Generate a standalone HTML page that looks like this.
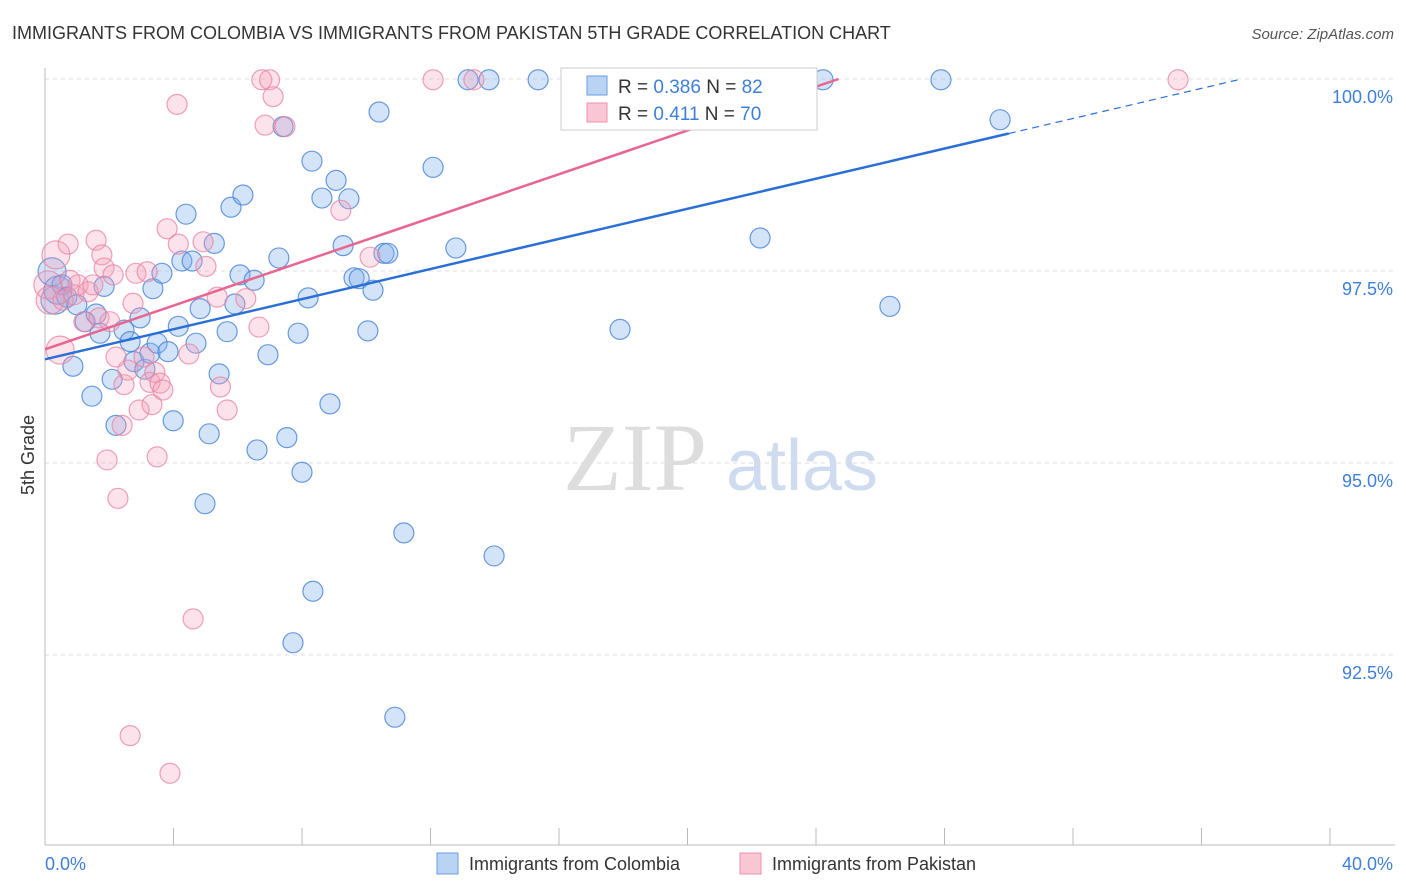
<!DOCTYPE html>
<html><head><meta charset="utf-8"><style>
body{margin:0;background:#fff;font-family:"Liberation Sans",sans-serif}
svg{display:block}
</style></head><body>
<svg id="c" width="1406" height="892">
<text x="12" y="39" font-size="18" fill="#333">IMMIGRANTS FROM COLOMBIA VS IMMIGRANTS FROM PAKISTAN 5TH GRADE CORRELATION CHART</text>
<text x="1394" y="39" font-size="15" fill="#555" text-anchor="end" font-style="italic">Source: ZipAtlas.com</text>
<text x="34" y="455" font-size="18" fill="#333" text-anchor="middle" transform="rotate(-90 34 455)">5th Grade</text>
<g><text x="635" y="490" font-size="96" fill="#ddd" font-family="Liberation Serif,serif" text-anchor="middle">ZIP</text><text x="802" y="490" font-size="72" fill="#cfdcf0" text-anchor="middle">atlas</text></g>
<g id="grid"></g><g id="axes"></g><g id="pts"></g><g id="lines"></g>
<g>
<rect x="561" y="68" width="256" height="62" fill="#fff" stroke="#ccc"/>
<rect x="587" y="76" width="20" height="19" fill="#b9d3f3" stroke="#6a9ee0"/>
<rect x="587" y="103" width="20" height="19" fill="#f9c6d4" stroke="#eb92ad"/>
<text x="618" y="93" font-size="19" fill="#333">R = <tspan fill="#3f7fd8">0.386</tspan>   N = <tspan fill="#3f7fd8">82</tspan></text>
<text x="618" y="120" font-size="19" fill="#333">R =  <tspan fill="#3f7fd8">0.411</tspan>   N = <tspan fill="#3f7fd8">70</tspan></text>
</g>
<g>
<rect x="437" y="853" width="21" height="21" fill="#b9d3f3" stroke="#6a9ee0"/>
<text x="469" y="870" font-size="18" fill="#333">Immigrants from Colombia</text>
<rect x="740" y="853" width="21" height="21" fill="#f9c6d4" stroke="#eb92ad"/>
<text x="772" y="870" font-size="18" fill="#333">Immigrants from Pakistan</text>
</g>
</svg>
<script>
const yTicks=[100,97.5,95,92.5];
const yTickLabels=["100.0%","97.5%","95.0%","92.5%"];
const xTickLabels=["0.0%","40.0%"];
const blueX=[0.22,0.31,0.40,0.53,0.68,0.87,0.99,1.25,1.46,1.59,1.71,1.84,2.09,2.21,2.46,2.65,2.77,2.96,3.11,3.27,3.36,3.49,3.64,3.83,3.99,4.15,4.26,4.39,4.58,4.70,4.83,4.98,5.11,5.27,5.42,5.67,5.79,5.91,6.07,6.16,6.51,6.60,6.94,7.28,7.41,7.53,7.72,7.88,8.00,8.19,8.31,8.34,8.62,8.87,9.06,9.28,9.46,9.62,9.78,10.05,10.21,10.40,10.55,10.67,10.89,11.17,12.08,12.79,13.17,13.82,13.98,15.35,17.90,20.82,22.26,24.22,26.30,27.89,29.73];
const blueY=[97.49,97.12,97.25,97.32,97.16,96.26,97.06,96.84,95.87,96.94,96.69,97.30,96.09,95.49,96.73,96.58,96.32,96.89,96.22,96.43,97.27,96.56,97.47,96.45,95.55,96.78,97.63,98.24,97.63,96.56,97.01,94.47,95.38,97.86,96.16,96.71,98.33,97.07,97.45,98.49,97.38,95.17,96.41,97.67,99.38,95.33,92.66,96.69,94.88,97.15,98.93,93.33,98.45,95.77,98.68,97.83,98.44,97.41,97.40,96.72,97.25,99.57,97.73,97.73,91.69,94.09,98.85,97.80,99.99,99.99,93.79,99.99,96.74,99.99,97.93,99.99,97.04,99.99,99.47];
const pinkX=[0.09,0.16,0.34,0.47,0.56,0.72,0.78,0.90,1.03,1.21,1.34,1.49,1.59,1.68,1.77,1.84,1.93,2.02,2.12,2.21,2.27,2.40,2.46,2.58,2.65,2.74,2.83,2.93,3.08,3.18,3.27,3.33,3.42,3.49,3.58,3.67,3.80,3.89,4.11,4.15,4.48,4.61,4.92,5.01,5.36,5.46,5.67,6.25,6.66,6.75,6.85,6.99,7.10,7.47,9.21,10.12,12.08,13.35,16.40,35.27];
const pinkY=[97.32,97.12,97.71,96.47,97.12,97.85,97.38,97.19,97.32,96.84,97.23,97.32,97.90,96.89,97.71,97.54,95.04,96.84,97.45,96.38,94.54,95.49,96.02,96.21,91.45,97.08,97.47,95.69,96.38,97.49,96.05,95.76,96.18,95.08,96.04,95.95,98.05,90.96,99.67,97.85,96.42,92.97,97.88,97.56,97.16,95.99,95.69,97.14,96.77,99.99,99.40,99.99,99.77,99.38,98.29,97.68,99.99,99.99,99.99,99.99];
const blueTrend=[96.35,0.098];
const pinkTrend=[96.48,0.1425];
const X0=45,X1=1330,Y100=79,PX_PER=76.8;
const sx=v=>X0+v/40*(X1-X0);
const sy=v=>Y100+(100-v)*PX_PER;
const NS="http://www.w3.org/2000/svg";
function mk(tag,parent,attrs){const e=document.createElementNS(NS,tag);for(const k in attrs)e.setAttribute(k,attrs[k]);document.getElementById(parent).appendChild(e);return e;}
yTicks.forEach((t,i)=>{
 const g=mk('line','grid',{x1:X0,x2:1395,y1:sy(t),y2:sy(t),stroke:'#ddd','stroke-dasharray':'4,4'});
 
 
 const tx=mk('text','grid',{x:1393,y:sy(t)+24,'font-size':18,fill:'#3f7fd8','text-anchor':'end'});
 tx.textContent=yTickLabels[i];
 
 
});
const al=mk('line','axes',{x1:X0,x2:X0,y1:68,y2:845,stroke:'#bbb'});


const ab=mk('line','axes',{x1:X0,x2:1395,y1:845,y2:845,stroke:'#bbb'});


for(let i=0;i<=10;i++){const t=mk('line','axes',{x1:sx(i*4),x2:sx(i*4),y1:828,y2:845,stroke:'#bbb'});
 
 }
[[0,'start',45],[40,'end',1393]].forEach((d,i)=>{const t=mk('text','axes',{x:d[2],y:870,'font-size':18,fill:'#3f7fd8','text-anchor':d[1]});t.textContent=xTickLabels[i];
 
 });
function pts(X,Y,fill,stroke,name){X.forEach((x,i)=>{const r=(x<0.5)?14:10;const c=mk('circle','pts',{cx:sx(x),cy:sy(Y[i]),r:r,fill:fill,stroke:stroke,'stroke-width':1.2});
 
 });}
pts(blueX,blueY,'rgba(130,175,235,0.35)','rgba(70,130,215,0.8)','colombia-point');
pts(pinkX,pinkY,'rgba(245,160,185,0.3)','rgba(232,130,160,0.75)','pakistan-point');
function yAt(tr,x){return tr[0]+tr[1]*x;}
const bl=mk('line','lines',{x1:sx(0),y1:sy(yAt(blueTrend,0)),x2:sx(30),y2:sy(yAt(blueTrend,30)),stroke:'#2a6fd6','stroke-width':2.5});


const xEnd=(100-blueTrend[0])/blueTrend[1];
const bd=mk('line','lines',{x1:sx(30),y1:sy(yAt(blueTrend,30)),x2:sx(xEnd),y2:sy(100),stroke:'#2a6fd6','stroke-width':1.2,'stroke-dasharray':'7,5'});


const pEnd=(100-pinkTrend[0])/pinkTrend[1];
const pl=mk('line','lines',{x1:sx(0),y1:sy(yAt(pinkTrend,0)),x2:sx(pEnd),y2:sy(100),stroke:'#e8658f','stroke-width':2.5});


</script>
</body></html>
